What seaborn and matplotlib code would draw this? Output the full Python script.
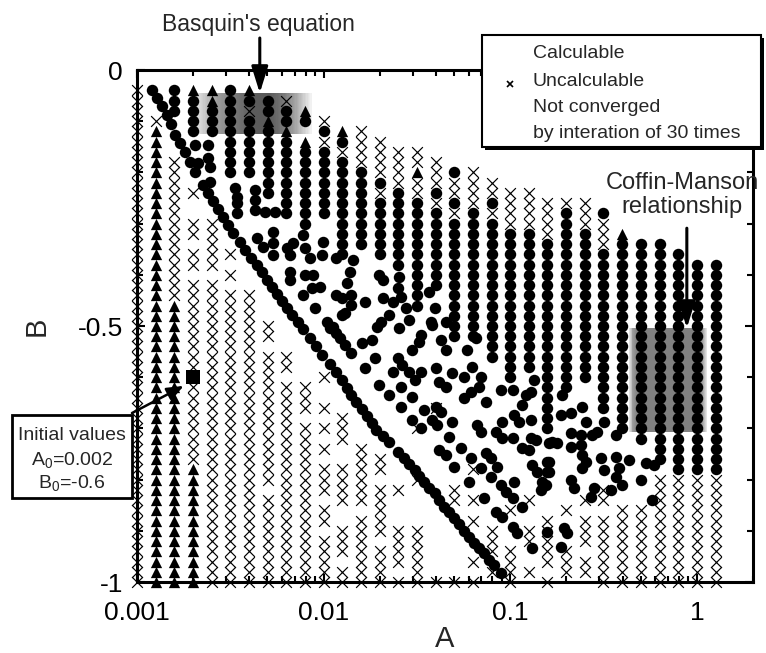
import numpy as np
import pandas as pd
import seaborn as sns
import matplotlib
matplotlib.use('Agg')
from matplotlib import pyplot as plt
from matplotlib.patches import Rectangle
from matplotlib.lines import Line2D
from matplotlib.ticker import LogLocator, NullFormatter

sns.set_style('ticks')
plt.rcParams['font.family'] = ['Liberation Sans', 'DejaVu Sans']
plt.rcParams['mathtext.default'] = 'regular'

# initial-value grid: A columns (log spaced), B rows
grid_A = [0.001, 0.00126, 0.00158, 0.002, 0.00251, 0.00316, 0.00398, 0.00501,
          0.00631, 0.00794, 0.01, 0.0126, 0.0158, 0.02, 0.0251, 0.0316,
          0.0398, 0.0501, 0.0631, 0.0794, 0.1, 0.126, 0.158, 0.2,
          0.251, 0.316, 0.398, 0.501, 0.631, 0.794, 1.0, 1.26]
grid_B = [0.0, -0.02, -0.04, -0.06, -0.08, -0.1, -0.12, -0.14, -0.16, -0.18,
          -0.2, -0.22, -0.24, -0.26, -0.28, -0.3, -0.32, -0.34, -0.36, -0.38,
          -0.4, -0.42, -0.44, -0.46, -0.48, -0.5, -0.52, -0.54, -0.56, -0.58,
          -0.6, -0.62, -0.64, -0.66, -0.68, -0.7, -0.72, -0.74, -0.76, -0.78,
          -0.8, -0.82, -0.84, -0.86, -0.88, -0.9, -0.92, -0.94, -0.96, -0.98, -1.0]

# o = calculable, x = uncalculable, ^ = not converged, . = nothing (top row first)
grid_map = [
    "..xxx xxxxx xxxxx xxxxx xxxxx xxxxx xxxxx xxxxx xxxxx xxxxx x",
    "..... x^^^^ ^^^^^ ^^^^^ ^^^^^ ^^^^^ ^^^^^ ^^^^^ ^^^^^ ^^^^^ ^",
    "..ooo ....x xxxxx xxxxx xxx^^ ^^^^^ ^^^^^ ^^^^^ ^^^^^ ^^^^^ ^",
    "..^oo oo... ..x.. xx.xx .xxxx xxxxx xxxxx xxxx^ ^^^^^ ^^^^^ ^",
    "..^^o oo... ..... xxxxx .xxxx xxxxx xxxxx xxxxx xxxxx xxxxx x",
    "..ooo ooooo o.... ...x. x.xxx xxxxx xxxxx xxxxx xxxxx xxxxx x",
    "..^ox ooooo o.... ..... ..xxx xxxxx xxxxx xxxxx xxxxx xxxxx x",
    "...oo ^oooo ooo.. ..... ..... xx.xx xxxxx xxxxx x.xxx xxxxx x",
    "...xo o^ooo ooooo ..... ..... ...xx .xxxx xxxxx xxxxx xxxxx x",
    "....^ o.^oo ooooo o.... ..... ..... .xxx. xxxxx xxxxx xxxxx x",
    "..... xoxoo ooooo ..... ..... ..... x..x. x.x.x xx.xx .xxxx x",
    "..... .^oxo ooooo oooo. ..... ..... ....x xx..x xxx.. xxx.x x",
    "..... .xxxx ooooo ooo.. ..... ..... ..... ..xxx xxx.x xxxxx x",
    "..... ..xxx xoxoo oooo. ..... ..... ..... ...xx .xxxx x.xxx x",
    "..... ...xx xxooo ooooo ..... ..... ..... ..... .x... xxxx. x",
    "..... ...xx ^xxoo ooooo oooo. ..... ..... x.... x.... xxxxx x",
    "..... ....x xxoxo ooooo oo... ..... ...x. ..... ..... ..... x",
    "..... ..... oxxox ooooo ooooo oo... ..... ..... .xx.. ..... x",
    "..... ..... xxxxo ooooo ooooo oo... ..... ....x ..x.x ...x. x",
    "..... ..... .xxox ooooo ooooo oooo. ..... ..... ..... xxx.x .",
    "..... ..... ..xxx xoooo ooooo ooooo o.... ..... ...x. ..xxx x",
    "..... ..... ..xxx xoooo ooooo ooooo ..... ..... ..x.. xx..x .",
    "..... ..... ...xx xxooo ooooo ooooo ooooo o.... ....x xxxx. x",
    "..... ..... ...xo ooooo ooooo ooooo oo... ..... ...x. ..xxx .",
    "..... ..... ...xx xoooo ooooo ooooo o.... ..... ..x.x xx.xx .",
    "..... ..... ....o xxxoo ooooo ooooo oooo. ..... .xx.x xxxxx x",
    "..... ..... ..... .^ooo ooooo ooooo ooooo o.... ...xx xxxxx x",
    "..... ..... ..... ..ooo ooooo ooooo ooooo oo... o..xx xxxxx x",
    "..... ..... ..... ..ooo ooooo ooooo ooooo oooo. xxxxx xxxxx x",
    "..... ..... ..... ...oo ooooo ooooo ooooo ooooo xxxxx xxxxx x",
    "..... ..... ..... ....o ooooo ooooo ooooo ooooo xxxxx xxxxx x",
    "..... ..... ..... ....o ooooo ooooo ooooo ooooo xxxxx xxxxx x",
]

# calculable results lying off the grid (A, B)
main_diagonal = [
    (0.00120, -0.039), (0.00128, -0.055), (0.00136, -0.070), (0.00145, -0.088),
    (0.00152, -0.105), (0.00160, -0.127), (0.00170, -0.143), (0.00181, -0.160),
    (0.00192, -0.180), (0.00204, -0.199), (0.00225, -0.225), (0.00240, -0.240),
    (0.00255, -0.256), (0.00271, -0.271), (0.00288, -0.287), (0.00307, -0.303),
    (0.00326, -0.318), (0.00356, -0.336), (0.00378, -0.352), (0.00407, -0.367),
    (0.00438, -0.381), (0.00466, -0.395), (0.00496, -0.410), (0.00527, -0.424),
    (0.00561, -0.438), (0.00596, -0.451), (0.00634, -0.465), (0.00674, -0.479),
    (0.00726, -0.492), (0.00773, -0.506), (0.00841, -0.523), (0.00906, -0.539),
    (0.00975, -0.557), (0.0108, -0.574), (0.0116, -0.590), (0.0125, -0.605),
    (0.0133, -0.621), (0.0141, -0.635), (0.0150, -0.648), (0.0160, -0.662),
    (0.0170, -0.676), (0.0181, -0.689), (0.0192, -0.703), (0.0207, -0.715),
    (0.0225, -0.727), (0.0249, -0.746), (0.0271, -0.758), (0.0288, -0.770),
    (0.0307, -0.781), (0.0326, -0.793), (0.0347, -0.805), (0.0369, -0.816),
    (0.0393, -0.826), (0.0417, -0.840), (0.0444, -0.854), (0.0472, -0.863),
    (0.0502, -0.875), (0.0534, -0.887), (0.0568, -0.900), (0.0604, -0.912),
    (0.0642, -0.924), (0.0683, -0.934), (0.0726, -0.943), (0.0773, -0.957),
    (0.0821, -0.967), (0.0895, -0.982),
]
scatter_upper = [
    (0.00204, -0.146), (0.00240, -0.146), (0.00212, -0.182), (0.00240, -0.172),
    (0.00246, -0.189), (0.00246, -0.219), (0.00334, -0.230), (0.00343, -0.248),
    (0.00428, -0.234), (0.00428, -0.254), (0.00343, -0.260), (0.00343, -0.279),
    (0.00428, -0.273), (0.00484, -0.277), (0.00547, -0.277), (0.00533, -0.316),
    (0.00438, -0.328), (0.00472, -0.346), (0.00533, -0.338), (0.00533, -0.361),
    (0.00682, -0.338), (0.00634, -0.348), (0.00657, -0.361), (0.00773, -0.322),
    (0.00792, -0.348), (0.00841, -0.367), (0.00975, -0.361), (0.00988, -0.336),
    (0.0117, -0.367), (0.00657, -0.395), (0.00657, -0.410), (0.00792, -0.400),
    (0.00873, -0.400), (0.00773, -0.439), (0.00862, -0.426), (0.00952, -0.424),
    (0.0117, -0.439), (0.0126, -0.445), (0.00895, -0.465), (0.0104, -0.492),
    (0.0112, -0.502), (0.0126, -0.479),
]
scatter_mid = [
    (0.0143, -0.371), (0.0138, -0.395), (0.0134, -0.416), (0.0141, -0.439),
    (0.0141, -0.459), (0.0130, -0.475), (0.0166, -0.453), (0.0199, -0.400),
    (0.0207, -0.410), (0.0255, -0.404), (0.0249, -0.426), (0.0207, -0.445),
    (0.0234, -0.453), (0.0261, -0.443), (0.0278, -0.465), (0.0225, -0.479),
    (0.0204, -0.492), (0.0194, -0.502), (0.0288, -0.488), (0.0369, -0.434),
    (0.0393, -0.465), (0.0378, -0.492), (0.0455, -0.492), (0.0255, -0.504),
    (0.0383, -0.498), (0.0160, -0.533), (0.0181, -0.527), (0.0122, -0.523),
    (0.0130, -0.537), (0.0141, -0.553), (0.0108, -0.504), (0.0117, -0.514),
    (0.0334, -0.518), (0.0326, -0.531), (0.0296, -0.547), (0.0428, -0.527),
    (0.0455, -0.547), (0.0658, -0.523), (0.0589, -0.547),
]
scatter_lower = [
    (0.0166, -0.582), (0.0188, -0.563), (0.0249, -0.563), (0.0264, -0.576),
    (0.0234, -0.590), (0.0288, -0.590), (0.0334, -0.590), (0.0307, -0.605),
    (0.0261, -0.619), (0.0299, -0.639), (0.0199, -0.615), (0.0225, -0.635),
    (0.0402, -0.582), (0.0417, -0.609), (0.0455, -0.619), (0.0490, -0.592),
    (0.0568, -0.600), (0.0626, -0.580), (0.0700, -0.600), (0.0683, -0.619),
    (0.0618, -0.629), (0.0568, -0.641), (0.0744, -0.648), (0.0895, -0.625),
    (0.103, -0.625), (0.134, -0.605), (0.122, -0.635), (0.116, -0.654),
    (0.130, -0.629), (0.0347, -0.664), (0.0402, -0.658), (0.0428, -0.668),
    (0.0383, -0.684), (0.0407, -0.693), (0.0472, -0.717), (0.0490, -0.688),
    (0.0334, -0.699), (0.0296, -0.684), (0.0261, -0.658), (0.0667, -0.693),
    (0.0700, -0.707), (0.0841, -0.707), (0.0906, -0.688), (0.0906, -0.719),
    (0.103, -0.719), (0.105, -0.674), (0.112, -0.688), (0.130, -0.684),
    (0.130, -0.719), (0.138, -0.723), (0.115, -0.738), (0.126, -0.742),
    (0.0417, -0.742), (0.0455, -0.752), (0.0502, -0.775), (0.0547, -0.738),
    (0.0618, -0.758), (0.0700, -0.777), (0.0744, -0.748), (0.0792, -0.758),
    (0.0851, -0.775), (0.0604, -0.805), (0.0726, -0.836), (0.0792, -0.795),
    (0.0895, -0.811), (0.0952, -0.824), (0.103, -0.836), (0.115, -0.854),
    (0.105, -0.805), (0.131, -0.771), (0.139, -0.785), (0.162, -0.785),
    (0.148, -0.805), (0.146, -0.820), (0.162, -0.766), (0.162, -0.729),
    (0.0841, -0.863), (0.0906, -0.873), (0.103, -0.893), (0.109, -0.904),
    (0.131, -0.934), (0.158, -0.902),
]
scatter_right = [
    (0.190, -0.635), (0.212, -0.670), (0.187, -0.674), (0.255, -0.688),
    (0.243, -0.658), (0.212, -0.709), (0.240, -0.713), (0.275, -0.713),
    (0.292, -0.707), (0.318, -0.688), (0.369, -0.713), (0.168, -0.727),
    (0.178, -0.729), (0.212, -0.736), (0.240, -0.732), (0.243, -0.752),
    (0.255, -0.766), (0.243, -0.777), (0.307, -0.758), (0.318, -0.781),
    (0.369, -0.756), (0.383, -0.777), (0.369, -0.795), (0.397, -0.811),
    (0.433, -0.762), (0.534, -0.768), (0.589, -0.771), (0.158, -0.766),
    (0.158, -0.785), (0.156, -0.811), (0.212, -0.801), (0.220, -0.816),
    (0.281, -0.816), (0.271, -0.834), (0.347, -0.820), (0.574, -0.840),
    (0.194, -0.895), (0.202, -0.904), (0.187, -0.932),
]
init_A = [0.002]
init_B = [-0.6]

# shaded bands: A range, B range, grey profile across A
basquin_A = (0.00192, 0.00862)
basquin_B = (-0.125, -0.045)
basquin_stops = [0.0, 0.1, 0.22, 0.38, 0.5, 0.65, 0.77, 0.88, 1.0]
basquin_grey = [0.95, 0.82, 0.62, 0.47, 0.36, 0.35, 0.47, 0.67, 0.96]
coffin_A = (0.433, 1.13)
coffin_B = (-0.707, -0.504)
coffin_stops = [0.0, 0.05, 0.1, 0.9, 0.95, 1.0]
coffin_grey = [0.92, 0.62, 0.5, 0.5, 0.62, 0.92]

recs = []
for a, col in zip(grid_A, grid_map):
    col = col.replace(' ', '')
    assert len(col) == len(grid_B)
    for b, c in zip(grid_B, col):
        if c != '.':
            recs.append((a, b, c))
pts = pd.DataFrame(recs, columns=['A', 'B', 'kind'])
extra = pd.DataFrame(main_diagonal + scatter_upper + scatter_mid + scatter_lower + scatter_right,
                     columns=['A', 'B'])
extra['kind'] = 'o'
pts = pd.concat([pts, extra], ignore_index=True)

fig = plt.figure(figsize=(7.66, 6.53), dpi=100)
ax = fig.add_axes([137/766, 71/653, 616/766, 512/653])
ax.set_xscale('log')


def shade(arange, brange, stops, grey, n=90):
    edges = np.geomspace(arange[0], arange[1], n + 1)
    mids = (np.arange(n) + 0.5) / n
    levels = np.interp(mids, stops, grey)
    for i in range(n):
        ax.fill_betweenx(brange, edges[i], edges[i + 1], color=str(levels[i]),
                         linewidth=0, antialiased=False, zorder=1)


shade(basquin_A, basquin_B, basquin_stops, basquin_grey)
shade(coffin_A, coffin_B, coffin_stops, coffin_grey)

sns.scatterplot(data=pts[pts.kind == 'x'], x='A', y='B', marker='x', s=60, color='black',
                linewidth=0.85, ax=ax, zorder=3, clip_on=False, legend=False)
sns.scatterplot(data=pts[pts.kind == '^'], x='A', y='B', marker='^', s=66, color='black',
                linewidth=0, ax=ax, zorder=3, clip_on=False, legend=False)
sns.scatterplot(data=pts[pts.kind == 'o'], x='A', y='B', marker='o', s=68, color='black',
                linewidth=0, ax=ax, zorder=3, clip_on=False, legend=False)
sns.scatterplot(x=init_A, y=init_B, marker='s', s=100, color='black', linewidth=0,
                ax=ax, zorder=4, clip_on=False, legend=False)

ax.set_xlim(0.001, 2)
ax.set_ylim(-1, 0)
ax.set_xticks([0.001, 0.01, 0.1, 1], labels=['0.001', '0.01', '0.1', '1'])
ax.xaxis.set_minor_locator(LogLocator(base=10, subs=np.arange(2, 10) * 1.0, numticks=20))
ax.xaxis.set_minor_formatter(NullFormatter())
ax.set_yticks([0, -0.5, -1], labels=['0', '-0.5', '-1'])
ax.set_yticks([-0.1, -0.2, -0.3, -0.4, -0.6, -0.7, -0.8, -0.9], minor=True)
ax.tick_params(which='both', direction='in', top=True, right=True, width=1.5,
               colors='black', labelsize=19)
ax.tick_params(which='major', length=6)
ax.tick_params(which='minor', length=4)
ax.tick_params(axis='x', pad=14)
ax.tick_params(axis='y', pad=10)
for sp in ax.spines.values():
    sp.set_linewidth(2.2)
    sp.set_color('black')
    sp.set_zorder(5)
ax.set_xlabel('A', fontsize=21)
ax.set_ylabel('B', fontsize=21)
ax.xaxis.set_label_coords(0.5, -0.084)
ax.yaxis.set_label_coords(-0.141, 0.5)

# arrows
ax.annotate('', xy=(0.00455, -0.045), xytext=(0.00455, 0.0625), annotation_clip=False,
            arrowprops=dict(arrowstyle='-|>,head_length=0.8,head_width=0.25', lw=2.2,
                            color='black', mutation_scale=20, shrinkA=0, shrinkB=0), zorder=6)
ax.annotate('', xy=(0.884, -0.504), xytext=(0.884, -0.309), annotation_clip=False,
            arrowprops=dict(arrowstyle='-|>,head_length=0.8,head_width=0.25', lw=2.2,
                            color='black', mutation_scale=20, shrinkA=0, shrinkB=0), zorder=6)
ax.annotate('', xy=(0.00178, -0.617), xytext=(0.00094, -0.670), annotation_clip=False,
            arrowprops=dict(arrowstyle='-|>,head_length=0.5,head_width=0.2', lw=1.8,
                            color='black', mutation_scale=20, shrinkA=0, shrinkB=0), zorder=6)

fig.text(258/766, 1 - 24/653, "Basquin's equation", ha='center', va='center', fontsize=16.5)
fig.text(682/766, 1 - 195/653, "Coffin-Manson\nrelationship", ha='center', va='center',
         fontsize=17, linespacing=1.15)

# initial values box
fig.patches.append(Rectangle((12/766, 1 - 498/653), 120/766, 83/653, transform=fig.transFigure,
                             facecolor='white', edgecolor='black', linewidth=2, zorder=7))
fig.text(72/766, 1 - 435/653, 'Initial values', ha='center', va='center', fontsize=14, zorder=8)
fig.text(72/766, 1 - 460/653, 'A$_0$=0.002', ha='center', va='center', fontsize=14, zorder=8)
fig.text(72/766, 1 - 483/653, 'B$_0$=-0.6', ha='center', va='center', fontsize=14, zorder=8)

# legend box with shadow
fig.patches.append(Rectangle((485/766, 1 - 150/653), 279/766, 112/653, transform=fig.transFigure,
                             facecolor='black', edgecolor='black', linewidth=0, zorder=7))
fig.patches.append(Rectangle((482/766, 1 - 147/653), 279/766, 112/653, transform=fig.transFigure,
                             facecolor='white', edgecolor='black', linewidth=1.5, zorder=7))
fig.add_artist(Line2D([510/766], [1 - 84/653], marker='x', markersize=5, markeredgewidth=1.2,
                      color='black', transform=fig.transFigure, zorder=8))
for txt, y in [('Calculable', 53), ('Uncalculable', 82), ('Not converged', 108),
               ('by interation of 30 times', 133)]:
    fig.text(533/766, 1 - y/653, txt, ha='left', va='center', fontsize=14, zorder=8)

fig.savefig('out.png', dpi=100)
